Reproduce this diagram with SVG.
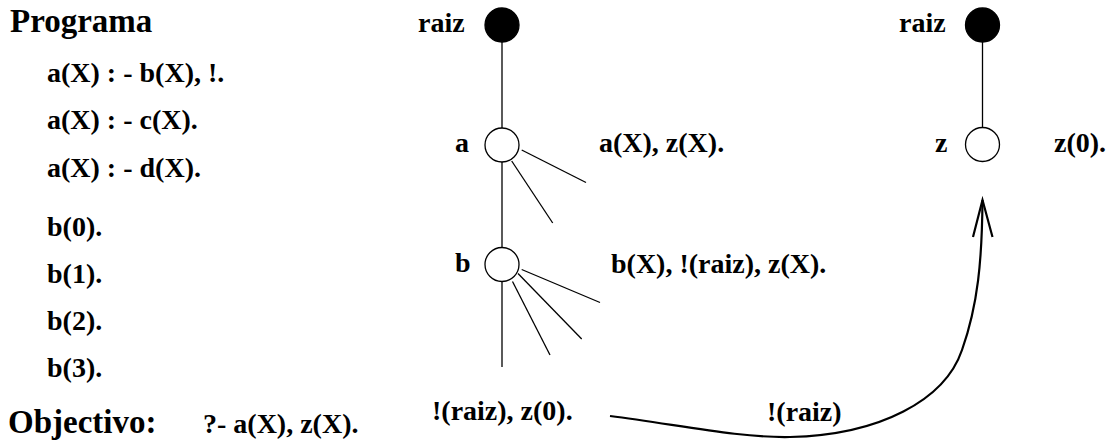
<svg xmlns="http://www.w3.org/2000/svg" width="1111" height="446" viewBox="0 0 1111 446">
<style>
text{font-family:"Liberation Serif","Times New Roman",serif;font-weight:bold;fill:#000}
.t{font-size:33px}
.b{font-size:28px}
.n{fill:#fff;stroke:#000;stroke-width:1.3}
.f{fill:#000;stroke:#000;stroke-width:1.3}
.e{stroke:#000;stroke-width:1.3;fill:none}
.arr{stroke:#000;stroke-width:2.2;fill:none}
</style>
<g id="program">
<text class="t" x="10" y="32">Programa</text>
<text class="b" x="47" y="82">a(X) : - b(X), !.</text>
<text class="b" x="47" y="129">a(X) : - c(X).</text>
<text class="b" x="47" y="177">a(X) : - d(X).</text>
<text class="b" x="47" y="236">b(0).</text>
<text class="b" x="47" y="283">b(1).</text>
<text class="b" x="47" y="330">b(2).</text>
<text class="b" x="47" y="377">b(3).</text>
<text class="t" x="8" y="433">Objectivo:</text>
<text class="b" x="203" y="433">?- a(X), z(X).</text>
</g>
<g id="connectors">
<line class="e" x1="502" y1="42" x2="502" y2="128"/>
<line class="e" x1="521.7" y1="150" x2="586" y2="182.5"/>
<line class="e" x1="511.7" y1="161" x2="552.7" y2="223"/>
<line class="e" x1="502" y1="162" x2="502" y2="247.5"/>
<line class="e" x1="521.7" y1="269.5" x2="600" y2="302.5"/>
<line class="e" x1="518" y1="273.5" x2="581.7" y2="339"/>
<line class="e" x1="512.5" y1="281.5" x2="550" y2="355"/>
<line class="e" x1="502" y1="281.5" x2="502" y2="367"/>
<line class="e" x1="982.5" y1="42" x2="982.5" y2="128"/>
<path class="arr" d="M610,416 C680,425 740,438 790,437 C880,435 945,400 962,350 C978,305 982,260 982.5,200"/>
<path class="arr" d="M973,237 L982.5,200 L992.5,237"/>
<text class="b" x="767" y="421">!(raiz)</text>
</g>
<g id="node-raiz1">
<text class="b" x="418" y="32">raiz</text>
<circle class="f" cx="502" cy="25" r="17"/>
</g>
<g id="node-a">
<text class="b" x="455" y="152">a</text>
<circle class="n" cx="502" cy="145" r="17"/>
<text class="b" x="599" y="152">a(X), z(X).</text>
</g>
<g id="node-b">
<text class="b" x="455" y="272">b</text>
<circle class="n" cx="502" cy="264.5" r="17"/>
<text class="b" x="611" y="273">b(X), !(raiz), z(X).</text>
</g>
<g id="node-leaf">
<text class="b" x="432" y="420">!(raiz), z(0).</text>
</g>
<g id="node-raiz2">
<text class="b" x="899" y="32">raiz</text>
<circle class="f" cx="982.5" cy="25" r="17"/>
</g>
<g id="node-z">
<text class="b" x="935" y="152">z</text>
<circle class="n" cx="982.5" cy="144.5" r="17"/>
<text class="b" x="1054" y="152">z(0).</text>
</g>
</svg>
